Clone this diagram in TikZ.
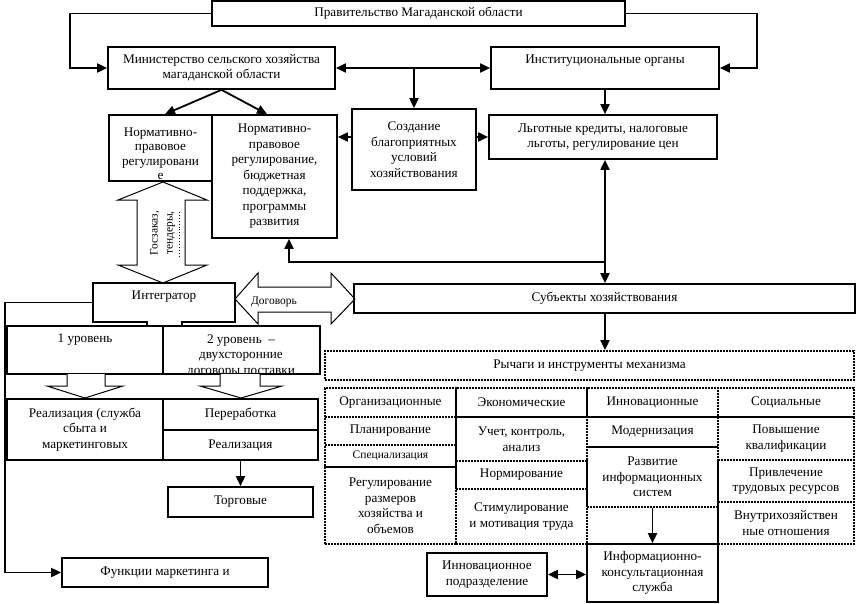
\documentclass[tikz,border=0pt]{standalone}
\usepackage{fontspec}
\setmainfont{Liberation Serif}
\usetikzlibrary{arrows.meta}
\newcommand\rbox[7][]{%
  \pgfmathsetmacro\rbcx{(#3+#5)/2}%
  \pgfmathsetmacro\rbcy{(#4+#6)/2}%
  \pgfmathsetmacro\rbw{#5-#3}%
  \pgfmathsetmacro\rbh{#6-#4}%
  \node[#1,minimum width=\rbw pt,minimum height=\rbh pt] (#2) at (\rbcx,\rbcy) {#7};}
\tikzset{
  sbox/.style={draw, line width=1.7pt, inner sep=0pt, align=center},
  dbox/.style={draw, line width=1.8pt, dash pattern=on 1.6pt off 1.4pt, inner sep=0pt, align=center},
  tx/.style={inner sep=0pt, align=center},
  arr/.style={line width=1.8pt, -{Triangle[length=10pt,width=9pt]}},
  darr/.style={line width=1.8pt, {Triangle[length=10pt,width=9pt]}-{Triangle[length=10pt,width=9pt]}},
  blk/.style={draw, line width=1pt, fill=white, line join=miter},
}
\begin{document}
\begin{tikzpicture}[x=1pt,y=-1pt,font=\fontsize{13.2}{15.5}\selectfont]
\fill[white] (0,0) rectangle (856,604);
\useasboundingbox (0,0) rectangle (856,604);

% top level
\rbox[sbox]{gov}{212}{1}{625}{26}{Правительство Магаданской области}
\rbox[sbox]{min}{108}{47}{335}{89}{Министерство сельского хозяйства\\магаданской области}
\rbox[sbox]{inst}{491}{47}{719}{89}{}
\node[tx] (instt) at (605,61) {Институциональные органы};

% second level
\rbox[sbox]{nb1}{109}{115}{212}{181}{}
\begin{scope}
  \clip (110,116) rectangle (211,180);
  \node[tx,font=\fontsize{13.2}{14.5}\selectfont] (nb1t) at (160.5,153.5) {Нормативно-\\правовое\\регулировани\\е};
\end{scope}
\rbox[sbox]{nb2}{212}{115}{337}{238}{Нормативно-\\правовое\\регулирование,\\бюджетная\\поддержка,\\программы\\развития}
\rbox[sbox]{sozd}{352}{109}{476}{190}{Создание\\благоприятных\\условий\\хозяйствования}
\rbox[sbox]{lgot}{489}{115}{717}{159}{Льготные кредиты, налоговые\\льготы, регулирование цен}

% block arrow (Госзаказ)
\draw[blk] (163,182) -- (207,200) -- (185,200) -- (185,265) -- (207,265) -- (163,283)
  -- (118,265) -- (137,265) -- (137,200) -- (118,200) -- cycle;
\node[tx,rotate=90,font=\fontsize{11.5}{15}\selectfont] (gz) at (162.5,233) {Госзаказ,\\тендеры,};
\draw[line width=0.9pt, dotted] (179,212) -- (179,256);

% integrator
\rbox[tx]{integ}{93}{283}{235}{322}{}
\draw[line width=1.7pt] (147,326) -- (147,322) -- (93,322) -- (93,283) -- (235,283)
  -- (235,322) -- (182,322) -- (182,326);
\node[tx] (integt) at (164,297) {Интегратор};

% contract arrow
\draw[blk] (235,299) -- (258,273) -- (258,287) -- (331,287) -- (331,273) -- (355,299)
  -- (331,324) -- (331,312) -- (258,312) -- (258,324) -- cycle;
\node[tx,font=\fontsize{11.5}{13}\selectfont] (dog) at (274,302) {Договорь};

\rbox[sbox]{subj}{354}{284}{855}{313}{Субъекты хозяйствования}

% levels
\rbox[sbox]{lv1}{7}{326}{163}{374}{}
\node[tx] (lv1t) at (85,340) {1 уровень};
\rbox[sbox]{lv2}{163}{326}{320}{374}{}
\begin{scope}
  \clip (164,327) rectangle (319,373);
  \node[tx] (lv2t) at (241,356) {2 уровень \ –\\двухсторонние\\договоры поставки};
\end{scope}

\draw[blk] (67,374) -- (67,386) -- (47,386) -- (85,398) -- (123,386) -- (105,386) -- (105,374);
\draw[blk] (220,374) -- (220,386) -- (200,386) -- (241,398) -- (282,386) -- (260,386) -- (260,374);

\rbox[sbox]{real1}{7}{399}{163}{460}{Реализация (служба\\сбыта и\\маркетинговых}
\rbox[sbox]{pere}{163}{399}{318}{430}{Переработка}
\rbox[sbox]{real2}{163}{430}{318}{460}{Реализация}
\rbox[sbox]{torg}{168}{487}{313}{517}{Торговые}
\rbox[sbox]{func}{62}{558}{268}{587}{Функции маркетинга и}

% mechanism grid
\rbox[dbox]{lev}{325}{351}{854}{380}{Рычаги и инструменты механизма}
\rbox[dbox]{h1}{325}{388}{456}{417}{Организационные}
\rbox[dbox]{h2}{456}{388}{587}{417}{Экономические}
\rbox[dbox]{h3}{587}{388}{718}{417}{Инновационные}
\rbox[dbox]{h4}{718}{388}{854}{417}{Социальные}
\rbox[dbox]{o1}{325}{417}{456}{445}{Планирование}
\rbox[dbox,font=\fontsize{11.5}{13}\selectfont]{o2}{325}{445}{456}{467}{Специализация}
\rbox[dbox]{o3}{325}{467}{456}{544}{Регулирование\\размеров\\хозяйства и\\объемов}
\rbox[dbox]{e1}{456}{417}{587}{461}{Учет, контроль,\\анализ}
\rbox[dbox]{e2}{456}{461}{587}{489}{Нормирование}
\rbox[dbox]{e3}{456}{489}{587}{544}{Стимулирование\\и мотивация труда}
\rbox[dbox]{i1}{587}{417}{718}{447}{Модернизация}
\rbox[dbox]{i2}{587}{447}{718}{507}{Развитие\\информационных\\систем}
\rbox[dbox]{i3}{587}{507}{718}{544}{}
\rbox[dbox]{s1}{718}{417}{854}{460}{Повышение\\квалификации}
\rbox[dbox]{s2}{718}{460}{854}{502}{Привлечение\\трудовых ресурсов}
\rbox[dbox]{s3}{718}{502}{854}{544}{Внутрихозяйствен\\ные отношения}

\rbox[sbox]{info}{587}{544}{718}{602}{Информационно-\\консультационная\\служба}
\rbox[sbox]{innov}{427}{553}{547}{596}{Инновационное\\подразделение}

% connectors
\draw[arr] (gov.west) -- ++(-141,0) |- (min.west);
\draw[arr] (gov.east) -- ++(131,0) |- (inst.east);
\draw[darr] (min.east) -- (inst.west);
\coordinate (midtop) at (414,68);
\draw[arr] (midtop) -- (sozd.north);
\draw[arr] (min.south) -- ([xshift=4.5pt]nb1.north);
\draw[arr] (min.south) -- ([xshift=-7.5pt]nb2.north);
\draw[arr] (sozd.west |- lgot.west) -- (nb2.east |- lgot.west);
\draw[arr] (sozd.east |- lgot.west) -- (lgot.west);
\draw[arr] (inst.south) -- (inst.south |- lgot.north);
\coordinate (junc) at (605,262);
\draw[arr] (junc) -- (junc |- lgot.south);
\draw[arr] (junc) -- (junc |- subj.north);
\draw[arr] (junc) -| ([xshift=14.5pt]nb2.south);
\draw[arr] (subj.south -| junc) -- (lev.north -| junc);
\draw[arr] (integ.west) -- ++(-88,0) |- (func.west);
\draw[arr] (real2.south) -- (torg.north);
\draw[arr] (i2.south) -- (info.north);
\draw[darr] (innov.east) -- (info.west |- innov.east);
\end{tikzpicture}
\end{document}
